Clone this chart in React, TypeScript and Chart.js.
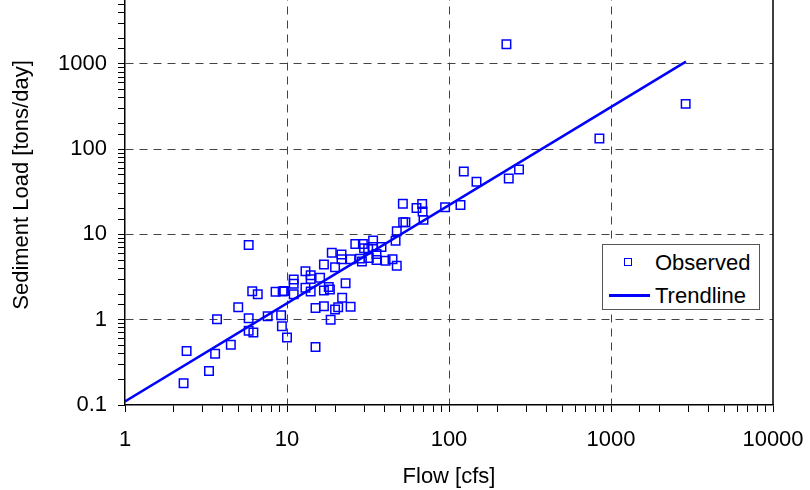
import { useEffect, useRef } from 'react';
import { Chart, registerables } from 'chart.js';

Chart.register(...registerables);

// Observed data: flow [cfs] and sediment load [tons/day]
const flow = [
  2.4, 2.3, 3.3, 3.6, 3.7, 4.5, 5.0, 5.8, 5.8, 5.8,
  6.2, 6.1, 6.6, 7.6, 8.5, 9.2, 9.3, 9.4, 9.6, 10.0,
  11.0, 11.0, 11.0, 13.0, 13.0, 14.0, 14.0, 14.0, 15.0, 15.0,
  16.0, 16.9, 16.9, 16.9, 18.1, 18.6, 18.9, 19.8, 19.8, 20.7,
  21.7, 21.9, 23.0, 21.7, 24.7, 24.7, 26.4, 29.4, 29.0, 29.9,
  31.7, 32.0, 34.0, 34.0, 35.7, 35.7, 38.3, 40.6, 44.8, 47.6,
  46.8, 47.6, 52.1, 53.8, 51.9, 63.0, 68.3, 68.7, 69.6, 94.6,
  117.7, 147.8, 123.4, 233.8, 270.6, 226.2, 848, 2890, 18.4, 28.2,
];
const load = [
  0.43, 0.18, 0.25, 0.40, 1.01, 0.51, 1.40, 7.5, 1.04, 0.74,
  0.71, 2.16, 1.99, 1.10, 2.13, 1.13, 0.84, 2.14, 2.17, 0.62,
  2.96, 2.64, 1.99, 3.70, 2.37, 3.32, 2.99, 2.14, 1.37, 0.48,
  3.10, 4.43, 1.44, 2.20, 2.41, 1.00, 6.1, 4.12, 1.32, 1.40,
  5.8, 1.81, 2.68, 5.1, 1.42, 5.1, 7.7, 7.7, 4.8, 6.9,
  6.8, 5.3, 8.5, 7.1, 5.9, 5.0, 7.1, 4.9, 5.1, 4.3,
  8.4, 10.9, 13.9, 13.9, 22.9, 20.4, 22.7, 18.6, 14.8, 20.8,
  22.1, 41.5, 54.7, 45.3, 57.7, 1690, 133, 339, 2.26, 5.2,
];

// Trendline end points
const trendFlow = [1, 2900];
const trendLoad = [0.11, 1060];

// Axis tick labels
const xTickLabels = ['1', '10', '100', '1000', '10000'];
const yTickLabels = ['0.1', '1', '10', '100', '1000'];

const xTitle = 'Flow [cfs]';
const yTitle = 'Sediment Load [tons/day]';
const legendLabels = ['Observed', 'Trendline'];

const FONT = '"Liberation Sans", Arial, Helvetica, sans-serif';
const BLUE = '#0000ff';
const SHIFT = 29; // plot top is cut off in the picture

const isLabel = (v: number, labels: string[]) =>
  labels.find((l) => Math.abs(Math.log10(v) - Math.log10(Number(l))) < 1e-6);

const isDecade = (v: number) => Math.abs(Math.log10(v) - Math.round(Math.log10(v))) < 1e-6;

export default function App() {
  const ref = useRef<HTMLCanvasElement | null>(null);

  useEffect(() => {
    if (!ref.current) return;

    const framePlugin = {
      id: 'frame',
      beforeDatasetsDraw(chart: any) {
        const { ctx, chartArea } = chart;
        ctx.save();
        ctx.strokeStyle = '#000';
        ctx.lineWidth = 1.5;
        ctx.beginPath();
        ctx.moveTo(chartArea.right, chartArea.top);
        ctx.lineTo(chartArea.right, chartArea.bottom);
        ctx.moveTo(chartArea.left, chartArea.top);
        ctx.lineTo(chartArea.right, chartArea.top);
        ctx.stroke();
        ctx.restore();
      },
      afterDraw(chart: any) {
        const { ctx } = chart;
        ctx.save();
        ctx.translate(21.7, 185 + SHIFT);
        ctx.rotate(-Math.PI / 2);
        ctx.font = `22px ${FONT}`;
        ctx.fillStyle = '#000';
        ctx.textAlign = 'center';
        ctx.textBaseline = 'middle';
        ctx.fillText(yTitle, 0, 0);
        ctx.restore();
      },
    };

    const gridColor = (ctx: any, scale: string) => {
      const v = ctx.tick ? ctx.tick.value : null;
      if (v == null) return 'transparent';
      if (!isDecade(v)) return 'transparent';
      if (scale === 'x' && (Math.abs(v - 1) < 1e-9 || Math.abs(v - 10000) < 1e-6)) return 'transparent';
      if (scale === 'y' && (Math.abs(v - 0.1) < 1e-9 || Math.abs(v - 10000) < 1e-6)) return 'transparent';
      return '#444';
    };

    const chart = new Chart(ref.current, {
      type: 'scatter',
      data: {
        datasets: [
          {
            label: legendLabels[0],
            data: flow.map((f, i) => ({ x: f, y: load[i] })),
            pointStyle: 'rect',
            pointRadius: 6,
            pointHoverRadius: 6,
            borderColor: BLUE,
            backgroundColor: 'transparent',
            pointBorderWidth: 1.5,
            showLine: false,
          },
          {
            label: legendLabels[1],
            data: trendFlow.map((f, i) => ({ x: f, y: trendLoad[i] })),
            showLine: true,
            borderColor: BLUE,
            borderWidth: 2.5,
            pointRadius: 0,
            pointHoverRadius: 0,
            backgroundColor: 'transparent',
          },
        ],
      },
      options: {
        animation: false,
        responsive: true,
        maintainAspectRatio: false,
        layout: { padding: { top: 0, right: 37, bottom: 0, left: 0 } },
        plugins: {
          legend: { display: false },
          tooltip: { enabled: false },
        },
        scales: {
          x: {
            type: 'logarithmic',
            min: 1,
            max: 10000,
            afterFit: (s: any) => {
              s.height = 85;
              s.paddingLeft = 0;
              s.paddingRight = 0;
            },
            border: { display: true, color: '#000', width: 1.5, dash: [8, 6] },
            grid: {
              color: (c: any) => gridColor(c, 'x'),
              lineWidth: 1,
              tickColor: '#000',
              tickLength: 7,
              tickWidth: 1,
            },
            ticks: {
              autoSkip: false,
              maxRotation: 0,
              padding: 15,
              color: '#000',
              font: { family: FONT, size: 22 },
              callback: (v: any) => isLabel(Number(v), xTickLabels) || '',
            },
            title: {
              display: true,
              text: xTitle,
              color: '#000',
              font: { family: FONT, size: 22 },
              padding: { top: 0, bottom: 0 },
            },
          },
          y: {
            type: 'logarithmic',
            min: 0.1,
            max: 10000,
            afterFit: (s: any) => {
              s.width = 125;
              s.paddingTop = 0;
              s.paddingBottom = 0;
            },
            border: { display: true, color: '#000', width: 1.5, dash: [8, 6] },
            grid: {
              color: (c: any) => gridColor(c, 'y'),
              lineWidth: 1,
              tickColor: '#000',
              tickLength: 7,
              tickWidth: 1,
            },
            ticks: {
              autoSkip: false,
              padding: 11,
              color: '#000',
              font: { family: FONT, size: 22 },
              callback: (v: any) => isLabel(Number(v), yTickLabels) || '',
            },
            title: { display: false },
          },
        },
      },
      plugins: [framePlugin],
    } as any);

    return () => chart.destroy();
  }, []);

  const textStyle: any = {
    position: 'absolute',
    left: 52,
    fontFamily: FONT,
    fontSize: 22,
    lineHeight: '26px',
    color: '#000',
    whiteSpace: 'nowrap',
  };

  return (
    <div
      style={{
        position: 'fixed',
        left: 0,
        top: 0,
        width: 810,
        height: 490,
        overflow: 'hidden',
        background: '#fff',
      }}
    >
      <div style={{ position: 'absolute', left: 0, top: -SHIFT, width: 810, height: 490 + SHIFT }}>
        <canvas ref={ref} />
      </div>
      <div
        style={{
          position: 'absolute',
          left: 602,
          top: 244,
          width: 156,
          height: 64,
          border: '1px solid #555',
          background: '#fff',
        }}
      >
        <div
          style={{
            position: 'absolute',
            left: 21,
            top: 13,
            width: 6,
            height: 6,
            border: `1.5px solid ${BLUE}`,
          }}
        />
        <div style={{ ...textStyle, top: 5 }}>{legendLabels[0]}</div>
        <div
          style={{
            position: 'absolute',
            left: 6,
            top: 49,
            width: 41,
            height: 2.5,
            background: BLUE,
          }}
        />
        <div style={{ ...textStyle, top: 38 }}>{legendLabels[1]}</div>
      </div>
    </div>
  );
}
